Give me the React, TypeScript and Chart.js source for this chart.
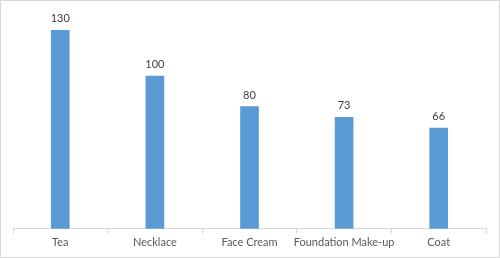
import React, { useEffect, useRef } from "react";
import { Chart, registerables } from "chart.js";

Chart.register(...registerables);

const categories = ["Tea", "Necklace", "Face Cream", "Foundation Make-up", "Coat"];
const values = [130, 100, 80, 73, 66];

const labelPlugin = {
  id: "valueLabels",
  afterDatasetsDraw(chart: any) {
    const ctx = chart.ctx;
    const meta = chart.getDatasetMeta(0);
    ctx.save();
    ctx.font = "11px Lato";
    ctx.fillStyle = "#404040";
    ctx.textAlign = "center";
    ctx.textBaseline = "bottom";
    meta.data.forEach((bar: any, i: number) => {
      ctx.fillText(String(values[i]), bar.x, bar.y - 6);
    });
    ctx.restore();
  },
};

export default function App() {
  const ref = useRef<HTMLCanvasElement>(null);
  useEffect(() => {
    document.body.style.margin = "0";
    const chart = new Chart(ref.current!, {
      type: "bar",
      data: {
        labels: categories,
        datasets: [
          {
            data: values,
            backgroundColor: "#5B9BD5",
            barThickness: 18,
          },
        ],
      },
      options: {
        animation: false,
        responsive: false,
        maintainAspectRatio: false,
        layout: { padding: { left: 12, right: 13, top: 14, bottom: 6 } },
        plugins: { legend: { display: false }, tooltip: { enabled: false } },
        scales: {
          x: {
            offset: true,
            grid: {
              offset: true,
              drawOnChartArea: false,
              drawTicks: true,
              tickLength: 5,
              color: "#D9D9D9",
            },
            border: { color: "#D9D9D9" },
            ticks: {
              color: "#595959",
              font: { family: "Lato", size: 11 },
              padding: 2,
              maxRotation: 0,
              autoSkip: false,
            },
          },
          y: {
            display: false,
            min: 0,
            max: 140,
          },
        },
      },
      plugins: [labelPlugin],
    });
    return () => chart.destroy();
  }, []);
  return (
    <div
      style={{
        position: "absolute",
        left: 0,
        top: 0,
        width: 500,
        height: 258,
        boxSizing: "border-box",
        border: "1px solid #D9D9D9",
        background: "#fff",
      }}
    >
      <canvas ref={ref} width={498} height={256} style={{ display: "block" }} />
    </div>
  );
}
